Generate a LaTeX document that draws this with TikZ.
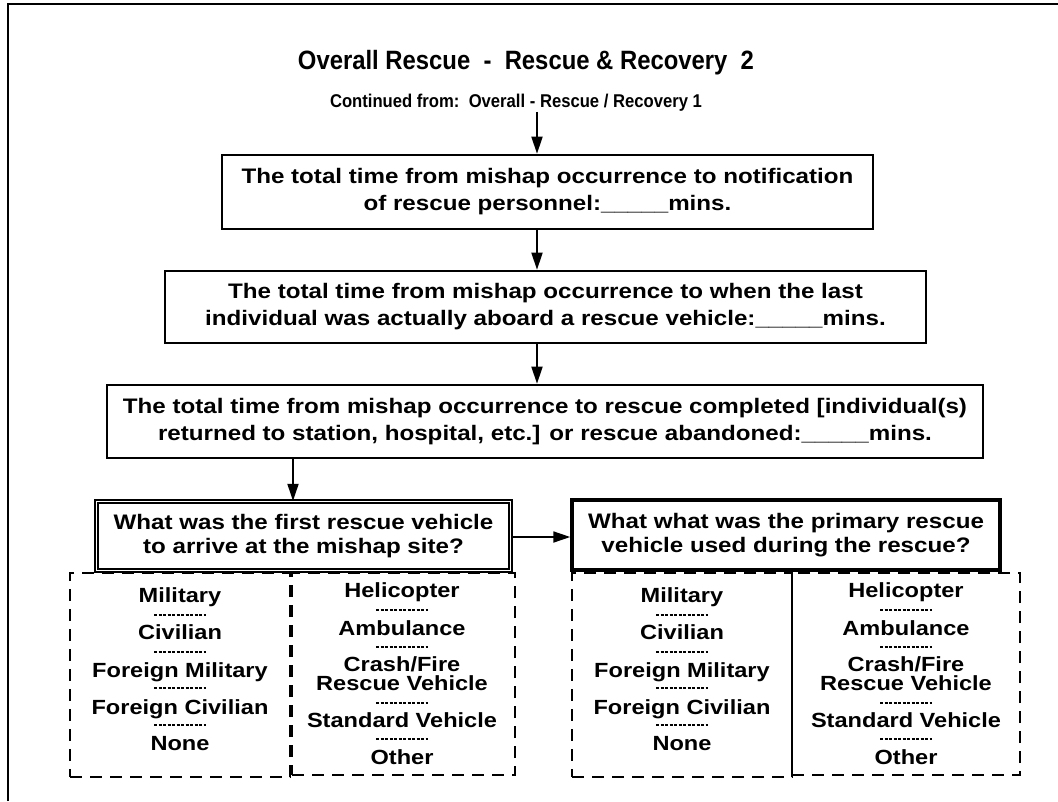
\documentclass[tikz,border=0pt]{standalone}
\usepackage{fontspec}
\setmainfont{Liberation Sans}[FakeStretch=1.15]
\newfontfamily\condfont{Liberation Sans}[FakeStretch=0.9]
\usetikzlibrary{arrows.meta}
\begin{document}
\begin{tikzpicture}[x=1pt,y=-1pt,
  qbox/.style={draw, line width=2.6pt, inner sep=0pt, align=center,
    font=\bfseries\fontsize{21}{27}\selectfont},
  dblbox/.style={qbox, line width=1.3pt, double, double distance=1.8pt},
  thickbox/.style={qbox, line width=3.4pt},
  optgroup/.style={draw, dash pattern=on 12pt off 8pt, line width=2.8pt, inner sep=0pt},
  opt/.style={font=\bfseries\fontsize{20.5}{19}\selectfont, anchor=base, inner sep=0pt, align=center},
  sepline/.style={line width=1.3pt, dash pattern=on 3pt off 1.5pt},
  arr/.style={line width=1.8pt, -{Triangle[length=17pt,width=11pt]}},
  framestyle/.style={line width=2.6pt}]
\useasboundingbox (0,0) rectangle (1058,801);
\fill[white] (0,0) rectangle (1058,801);
\draw[framestyle] (8,801) -- (8,4) -- (1058,4);

\node[font=\condfont\bfseries\fontsize{26.5}{30}\selectfont, inner sep=0pt] (title) at (526,63)
  {Overall Rescue~~-~~Rescue \& Recovery~~2};
\node[font=\condfont\bfseries\fontsize{18.5}{22}\selectfont, inner sep=0pt] (cont) at (516,103)
  {Continued from:~~Overall - Rescue / Recovery 1};

\node[qbox, minimum width=651, minimum height=74] (b1) at (547.5,192)
  {The total time from mishap occurrence to notification\\of rescue personnel:\_\_\_\_\_mins.};
\node[qbox, minimum width=761, minimum height=72] (b2) at (545.5,307)
  {The total time from mishap occurrence to when the last\\individual was actually aboard a rescue vehicle:\_\_\_\_\_mins.};
\node[qbox, minimum width=876, minimum height=73] (b3) at (545,421.5)
  {The total time from mishap occurrence to rescue completed [individual(s)\\returned to station, hospital, etc.] or rescue abandoned:\_\_\_\_\_mins.};
\node[dblbox, minimum width=414, minimum height=69, font=\bfseries\fontsize{21}{24}\selectfont] (b4) at (303.5,536)
  {What was the first rescue vehicle\\to arrive at the mishap site?};
\node[thickbox, minimum width=428, minimum height=70, font=\bfseries\fontsize{21}{24}\selectfont] (b5) at (786,535)
  {What what was the primary rescue\\vehicle used during the rescue?};

% dashed option groups
\node[optgroup, minimum width=220, minimum height=204] (g1) at (180,675) {};
\node[optgroup, minimum width=223, minimum height=202] (g2) at (403.5,674) {};
\node[optgroup, minimum width=220, minimum height=204] (g3) at (682,675) {};
\node[optgroup, minimum width=228, minimum height=202] (g4) at (906,674) {};

% options
\foreach \gx/\p in {180/a, 682/b} {
  \node[opt] (mil\p) at (\gx,602) {Military};
  \node[opt] (civ\p) at (\gx,639) {Civilian};
  \node[opt] (fmil\p) at (\gx,677) {Foreign Military};
  \node[opt] (fciv\p) at (\gx,714) {Foreign Civilian};
  \node[opt] (none\p) at (\gx,750) {None};
  \foreach \sy in {615,652,688,725}
    \draw[sepline] (\gx-26,\sy) -- (\gx+26,\sy);
}
\foreach \gx/\p in {402/a, 906/b} {
  \node[opt] (heli\p) at (\gx,597) {Helicopter};
  \node[opt] (amb\p) at (\gx,635) {Ambulance};
  \node[opt] (crash\p) at (\gx,671) {Crash/Fire};
  \node[opt] (resc\p) at (\gx,690) {Rescue Vehicle};
  \node[opt] (std\p) at (\gx,727) {Standard Vehicle};
  \node[opt] (oth\p) at (\gx,764) {Other};
  \foreach \sy in {610,647,703,739}
    \draw[sepline] (\gx-26,\sy) -- (\gx+26,\sy);
}

% connectors
\coordinate (ax) at (537,0);
\coordinate (bx) at (293,0);
\coordinate (cy) at (0,537);
\draw[arr] (cont.south -| ax) -- (b1.north -| ax);
\draw[arr] (b1.south -| ax) -- (b2.north -| ax);
\draw[arr] (b2.south -| ax) -- (b3.north -| ax);
\draw[arr] (b3.south -| bx) -- (b4.north -| bx);
\draw[arr] (b4.east |- cy) -- (b5.west |- cy);
\end{tikzpicture}
\end{document}
